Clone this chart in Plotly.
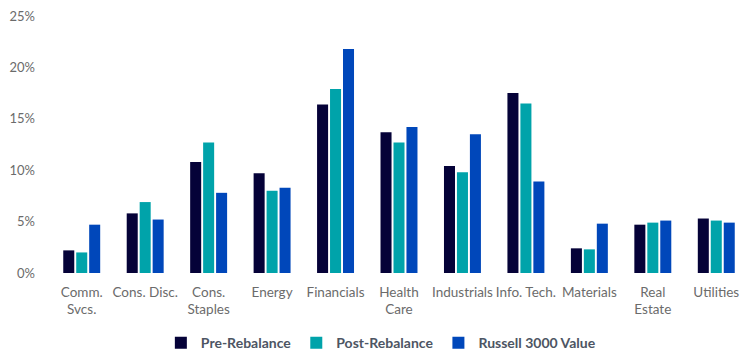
import plotly.graph_objects as go

categories = ["Comm.<br>Svcs.", "Cons. Disc.", "Cons.<br>Staples", "Energy", "Financials",
              "Health<br>Care", "Industrials", "Info. Tech.", "Materials", "Real<br>Estate", "Utilities"]
pre_rebalance = [2.2, 5.8, 10.8, 9.7, 16.4, 13.7, 10.4, 17.5, 2.4, 4.7, 5.3]
post_rebalance = [2.0, 6.9, 12.7, 8.0, 17.9, 12.7, 9.8, 16.5, 2.3, 4.9, 5.1]
russell_3000_value = [4.7, 5.2, 7.8, 8.3, 21.8, 14.2, 13.5, 8.9, 4.8, 5.1, 4.9]
y_ticks = [0, 5, 10, 15, 20, 25]
y_tick_labels = ["0%", "5%", "10%", "15%", "20%", "25%"]

series = [
    ("Pre-Rebalance", pre_rebalance, "#050238"),
    ("Post-Rebalance", post_rebalance, "#00A3AA"),
    ("Russell 3000 Value", russell_3000_value, "#0047BA"),
]

FONT = "Lato, sans-serif"

fig = go.Figure()
for name, vals, color in series:
    fig.add_trace(go.Bar(x=categories, y=vals, name=name, marker_color=color,
                         marker_line_width=0))

fig.update_layout(
    width=748, height=360,
    margin=dict(l=50, r=0, t=16, b=87),
    paper_bgcolor="white", plot_bgcolor="white",
    barmode="group", bargap=0.387, bargroupgap=0.15,
    font=dict(family=FONT, size=13, color="#666666"),
    legend=dict(orientation="h", x=0.474, xanchor="center", y=-0.273, yanchor="middle",
                font=dict(family=FONT, size=14, color="#4d5563", weight="bold"),
                itemwidth=30, traceorder="normal"),
    showlegend=True,
)
fig.update_yaxes(range=[0, 25], tickmode="array", tickvals=y_ticks, ticktext=y_tick_labels,
                 showgrid=False, zeroline=False, showline=False, ticks="", ticklabelstandoff=14,
                 tickfont=dict(family=FONT, size=13, color="#6b6b6b"))
fig.update_xaxes(showgrid=False, showline=False, ticks="", ticklabelstandoff=9,
                 tickfont=dict(family=FONT, size=13.5, color="#6b6b6b"), tickangle=0)

fig.write_html("out.html")
